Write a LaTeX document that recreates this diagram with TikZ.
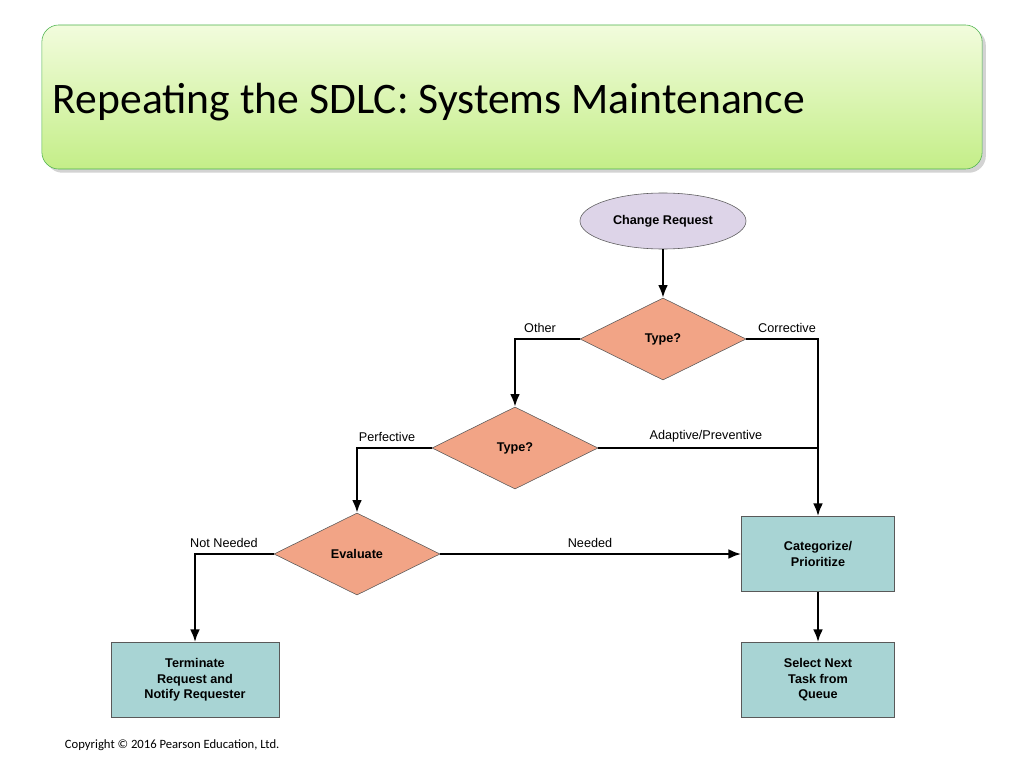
\documentclass[tikz,border=0pt]{standalone}
\usepackage{fontspec}
\setmainfont{Liberation Sans}
\newfontfamily\titlefont{Carlito}
\usetikzlibrary{arrows.meta,shapes.geometric,shadows}
\definecolor{diafill}{HTML}{F2A486}
\definecolor{ovalfill}{HTML}{DDD4E8}
\definecolor{boxfill}{HTML}{A8D4D4}
\definecolor{titletop}{HTML}{F2FCDD}
\definecolor{titlebot}{HTML}{C4EE88}
\tikzset{
    decision/.style = {diamond, draw=gray!70!black, fill=diafill, inner sep=0pt,
        minimum width=4.15cm, minimum height=2.05cm, font={\bfseries\small}},
    task/.style = {rectangle, draw=gray!70!black, fill=boxfill, align=center,
        minimum height=1.88cm, font={\bfseries\small}},
    flow/.style = {line width=1.6pt, -{Latex[length=9pt,width=7pt]}},
    merge/.style = {line width=1.6pt},
    lbl/.style = {font={\small}, inner sep=1pt}
}

\begin{document}
\begin{tikzpicture}[x=0.025cm, y=-0.025cm]
    \useasboundingbox (0,0) rectangle (1024,768);

    % title bar
    \node[rounded corners=12pt, draw=green!40!gray, top color=titletop, bottom color=titlebot,
        drop shadow={opacity=0.35}, minimum width=23.5cm, minimum height=3.6cm] (title) at (512,97) {};
    \node[anchor=west, font={\titlefont\fontsize{31}{36}\selectfont}] (titletext) at (48,102)
        {Repeating the SDLC: Systems Maintenance};

    % nodes
    \node[ellipse, draw=gray!70!black, fill=ovalfill, minimum width=4.15cm, minimum height=1.4cm,
        font={\bfseries\small}] (request) at (663,221) {Change Request};
    \node[decision] (type1) at (663,339) {Type?};
    \node[decision] (type2) at (515,448) {Type?};
    \node[decision] (evaluate) at (357,554) {Evaluate};
    \node[task, minimum width=3.83cm] (categorize) at (818,554) {Categorize/\\Prioritize};
    \node[task, minimum width=3.83cm] (select) at (818,680) {Select Next\\Task from\\Queue};
    \node[task, minimum width=4.2cm] (terminate) at (195,680) {Terminate\\Request and\\Notify Requester};

    % corners
    \coordinate (c1) at (515,339);
    \coordinate (c2) at (818,339);
    \coordinate (c3) at (818,448);
    \coordinate (c4) at (357,448);
    \coordinate (c5) at (195,554);

    % connectors
    \draw[flow] (request) -- (type1);
    \draw[flow] (type1.west) -- (c1) -- (type2.north);
    \draw[flow] (type1.east) -- (c2) -- (categorize.north);
    \draw[merge] (type2.east) -- (c3);
    \draw[flow] (type2.west) -- (c4) -- (evaluate.north);
    \draw[flow] (evaluate.east) -- (categorize.west);
    \draw[flow] (evaluate.west) -- (c5) -- (terminate.north);
    \draw[flow] (categorize) -- (select);

    % labels
    \node[lbl] (other) at (540,328) {Other};
    \node[lbl] (corrective) at (787,328) {Corrective};
    \node[lbl] (perfective) at (387,437) {Perfective};
    \node[lbl] (adaptive) at (706,436) {Adaptive/Preventive};
    \node[lbl] (notneeded) at (224,543) {Not Needed};
    \node[lbl] (needed) at (590,543) {Needed};

    \node[anchor=west, font={\titlefont\small}] (copyright) at (60,745)
        {Copyright © 2016 Pearson Education, Ltd.};
\end{tikzpicture}
\end{document}
